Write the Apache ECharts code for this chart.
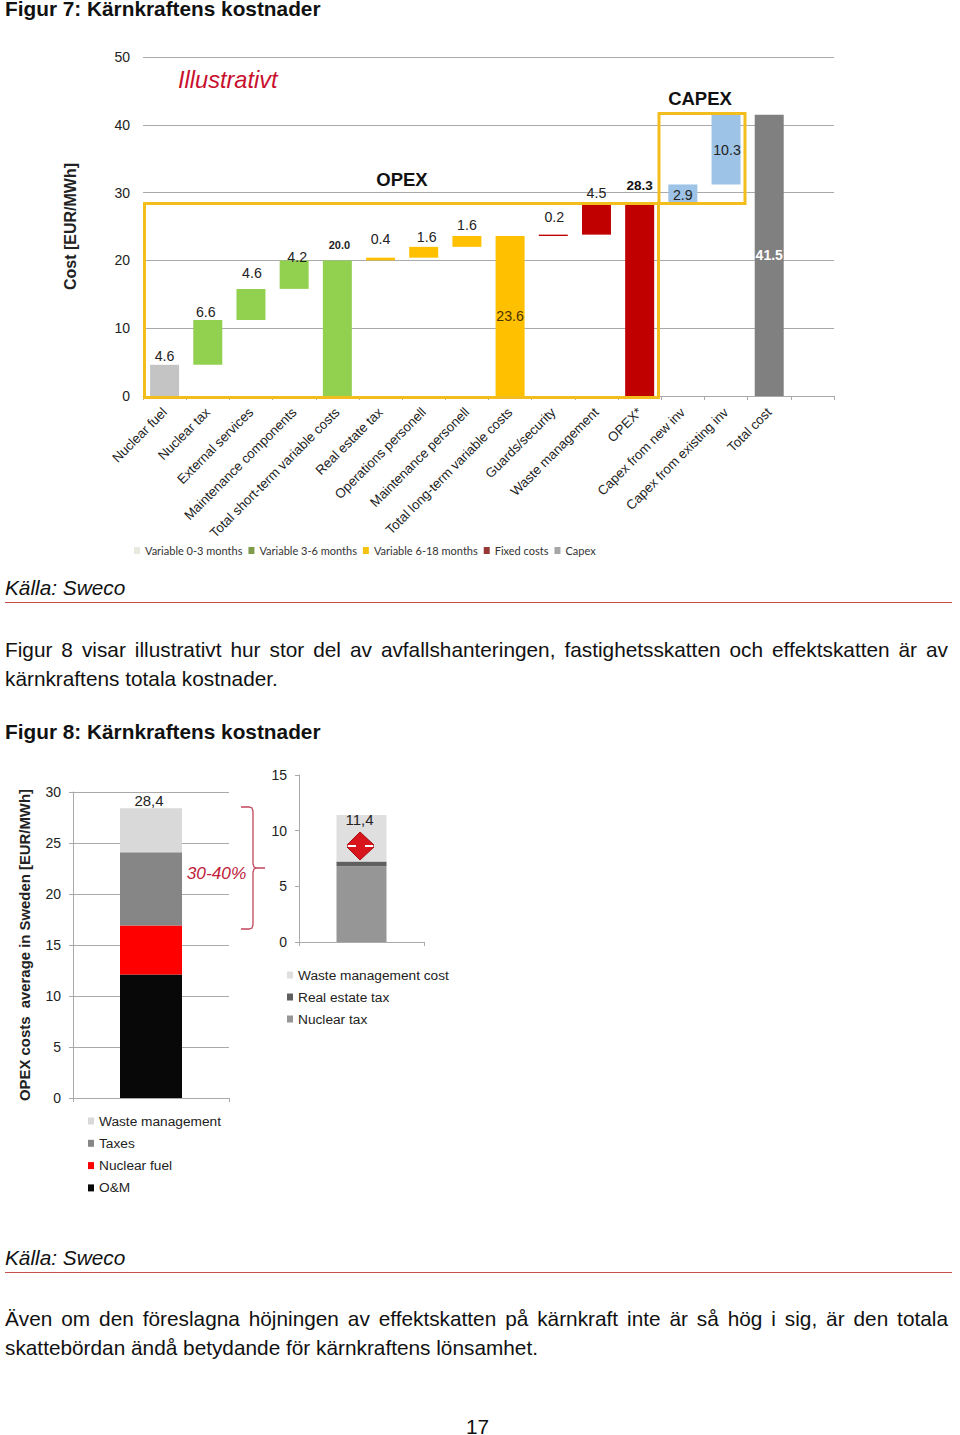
<!DOCTYPE html>
<html><head><meta charset="utf-8">
<script src="https://cdn.jsdelivr.net/npm/echarts@6/dist/echarts.min.js"></script>
<style>
html,body{margin:0;padding:0;background:#fff;width:960px;height:1435px;overflow:hidden}
#c{position:absolute;left:0;top:0;width:960px;height:1435px}
.t{position:absolute;left:5px;font-family:"Liberation Sans",Arial,sans-serif;font-size:20.8px;color:#111;white-space:nowrap;line-height:29px}
.h{font-weight:bold}.s{font-style:italic}
.p{white-space:normal;width:943px;text-align:justify}
.r{position:absolute;left:5px;width:947px;height:1px;background:#c8504a}
</style></head><body>
<div id="c"></div>
<div class="t h" style="top:0;line-height:17px">Figur 7: Kärnkraftens kostnader</div>
<div class="t s" style="top:573px">Källa: Sweco</div>
<div class="r" style="top:602px"></div>
<div class="t p" style="top:635px">Figur 8 visar illustrativt hur stor del av avfallshanteringen, fastighetsskatten och effektskatten är av kärnkraftens totala kostnader.</div>
<div class="t h" style="top:717px">Figur 8: Kärnkraftens kostnader</div>
<div class="t s" style="top:1243px">Källa: Sweco</div>
<div class="r" style="top:1272px"></div>
<div class="t p" style="top:1304px">Även om den föreslagna höjningen av effektskatten på kärnkraft inte är så hög i sig, är den totala skattebördan ändå betydande för kärnkraftens lönsamhet.</div>
<div class="t" style="left:466px;top:1419px;line-height:16px">17</div>
<script>
// ---- Figure 7 data
const categories = ['Nuclear fuel','Nuclear tax','External services','Maintenance components','Total short-term variable costs','Real estate tax','Operations personell','Maintenance personell','Total long-term variable costs','Guards/security','Waste management','OPEX*','Capex from new inv','Capex from existing inv','Total cost',''];
const baseValues   = [null,4.6,11.2,15.8,null,20,20.4,22,null,23.6,23.8,null,28.3,31.2,null,null];
const variable03   = [4.6,null,null,null,null,null,null,null,null,null,null,null,null,null,null,null];
const variable36   = [null,6.6,4.6,4.2,20,null,null,null,null,null,null,null,null,null,null,null];
const variable618  = [null,null,null,null,null,0.4,1.6,1.6,23.6,null,null,null,null,null,null,null];
const fixedCosts   = [null,null,null,null,null,null,null,null,null,0.2,4.5,28.3,null,null,null,null];
const capex        = [null,null,null,null,null,null,null,null,null,null,null,null,2.9,10.3,41.5,null];
// ---- Figure 8 data
const opexCategory = ['OPEX'];
const omValues = [12.1];
const nuclearFuelValues = [4.8];
const taxesValues = [7.2];
const wasteValues = [4.3];
const opexTotalLabel = '28,4';
const taxCategory = ['Tax'];
const nuclearTaxValues = [6.8];
const realEstateValues = [0.43];
const wasteCostValues = [4.17];
const taxTotalLabel = '11,4';

const FONT = '"Liberation Sans",Arial,sans-serif';
const TXT = '#222';
// label placement per category index: [position, dx, dy, extra]
const labelPlace = {
 0:['top',0,3],1:['top',-2,4],2:['top',1,-4],3:['top',3,9],
 4:['top',2,-5,{fontWeight:'bold',fontSize:11}],5:['top',0,-7],6:['top',3,2],7:['top',0,1],
 8:['inside',0,0,{color:'#4a3500'}],9:['top',1,-6],10:['top',0,1],
 11:['top',0,-7,{fontWeight:'bold',fontSize:13.5,color:'#111'}],
 12:['inside',0,1],13:['inside',1,0],14:['inside',0,0,{color:'#fff',fontWeight:'bold',fontSize:14}]
};
const barColor = {0:'#c4c4c4',14:'#808080'};
function makeData(arr,color){
  return arr.map((v,i)=>{
    if(v===null) return {value:null};
    const p=labelPlace[i];
    return {value:v,itemStyle:{color:barColor[i]||color},
      label:Object.assign({show:true,position:p[0],offset:[p[1],p[2]],formatter:d=>d.value.toFixed(1),
        fontFamily:FONT,fontSize:14.2,color:TXT},p[3]||{})};
  });
}
function s7(name,arr,color){
  return {name,type:'bar',stack:'a',xAxisIndex:0,yAxisIndex:0,barWidth:29,data:makeData(arr,color),itemStyle:{color}};
}
const gridLine={show:true,lineStyle:{color:'#aaa',width:1}};
const axisGrey={show:true,lineStyle:{color:'#aaa'}};
const lbl14={fontFamily:FONT,fontSize:14,color:TXT};
const legendText={fontFamily:FONT,fontSize:13.7,color:TXT};
const topLabel=(txt,off)=>({show:true,position:'top',offset:off,formatter:()=>txt,fontFamily:FONT,fontSize:15,color:TXT});
const YEL='#f2bd1d', RED='#c0203a';
const noFill='transparent';

const option={
 animation:false,
 backgroundColor:'#fff',
 grid:[
  {left:143,top:57,width:691,height:339},
  {left:73,top:792,width:156,height:306},
  {left:299,top:775,width:125,height:167}
 ],
 xAxis:[
  {gridIndex:0,type:'category',data:categories,axisLine:axisGrey,
   axisTick:{show:true,length:4,lineStyle:{color:'#aaa'},alignWithLabel:false,interval:0},
   axisLabel:{rotate:45,interval:0,margin:14,fontFamily:FONT,fontSize:13.3,color:TXT}},
  {gridIndex:1,type:'category',data:opexCategory,axisLine:axisGrey,axisTick:{show:true,length:4,lineStyle:{color:'#aaa'}},axisLabel:{show:false}},
  {gridIndex:2,type:'category',data:taxCategory,axisLine:axisGrey,axisTick:{show:true,length:4,lineStyle:{color:'#aaa'}},axisLabel:{show:false}}
 ],
 yAxis:[
  {gridIndex:0,type:'value',min:0,max:50,interval:10,name:'Cost [EUR/MWh]',nameLocation:'middle',nameGap:65,
   nameTextStyle:{fontFamily:FONT,fontSize:16,fontWeight:'bold',color:TXT},
   axisLine:{show:false},axisTick:{show:false},splitLine:gridLine,axisLabel:Object.assign({margin:13},lbl14)},
  {gridIndex:1,type:'value',min:0,max:30,interval:5,name:'OPEX costs  average in Sweden [EUR/MWh]',nameLocation:'middle',nameGap:41,
   nameTextStyle:{fontFamily:FONT,fontSize:14.9,fontWeight:'bold',color:TXT},
   axisLine:axisGrey,axisTick:{show:true,length:4,lineStyle:{color:'#aaa'}},splitLine:gridLine,axisLabel:Object.assign({margin:12},lbl14)},
  {gridIndex:2,type:'value',min:0,max:15,interval:5,
   axisLine:axisGrey,axisTick:{show:true,length:4,lineStyle:{color:'#aaa'}},splitLine:{show:false},axisLabel:Object.assign({margin:12},lbl14)}
 ],
 legend:[
  {left:134,top:545,padding:0,itemWidth:6,itemHeight:7,itemGap:6,icon:'rect',selectedMode:false,
   textStyle:{fontFamily:'Lato',fontSize:11,color:'#333'},
   data:[{name:'Variable 0-3 months',itemStyle:{color:'#e9e9e0'}},{name:'Variable 3-6 months',itemStyle:{color:'#7f9a48'}},
         {name:'Variable 6-18 months',itemStyle:{color:'#f5c211'}},{name:'Fixed costs',itemStyle:{color:'#953735'}},{name:'Capex',itemStyle:{color:'#a6a6a6'}}]},
  {left:88,top:1114,padding:0,orient:'vertical',itemWidth:6,itemHeight:7,itemGap:8.3,icon:'rect',selectedMode:false,textStyle:legendText,
   data:['Waste management','Taxes','Nuclear fuel','O&M']},
  {left:287,top:968,padding:0,orient:'vertical',itemWidth:6,itemHeight:7,itemGap:8,icon:'rect',selectedMode:false,textStyle:legendText,
   data:['Waste management cost','Real estate tax','Nuclear tax']}
 ],
 series:[
  {name:'Base',type:'bar',stack:'a',xAxisIndex:0,yAxisIndex:0,barWidth:29,data:baseValues,itemStyle:{color:noFill},silent:true},
  s7('Variable 0-3 months',variable03,'#c4c4c4'),
  s7('Variable 3-6 months',variable36,'#92d050'),
  s7('Variable 6-18 months',variable618,'#ffc000'),
  s7('Fixed costs',fixedCosts,'#c00000'),
  s7('Capex',capex,'#9dc3e6'),

  {name:'O&M',type:'bar',stack:'b',xAxisIndex:1,yAxisIndex:1,barWidth:62,data:omValues,itemStyle:{color:'#080808'}},
  {name:'Nuclear fuel',type:'bar',stack:'b',xAxisIndex:1,yAxisIndex:1,barWidth:62,data:nuclearFuelValues,itemStyle:{color:'#ff0000'}},
  {name:'Taxes',type:'bar',stack:'b',xAxisIndex:1,yAxisIndex:1,barWidth:62,data:taxesValues,itemStyle:{color:'#868686'}},
  {name:'Waste management',type:'bar',stack:'b',xAxisIndex:1,yAxisIndex:1,barWidth:62,data:wasteValues,itemStyle:{color:'#d9d9d9'},label:topLabel(opexTotalLabel,[-2,5])},

  {name:'Nuclear tax',type:'bar',stack:'c',xAxisIndex:2,yAxisIndex:2,barWidth:50,data:nuclearTaxValues,itemStyle:{color:'#969696'}},
  {name:'Real estate tax',type:'bar',stack:'c',xAxisIndex:2,yAxisIndex:2,barWidth:50,data:realEstateValues,itemStyle:{color:'#5f5f5f'}},
  {name:'Waste management cost',type:'bar',stack:'c',xAxisIndex:2,yAxisIndex:2,barWidth:50,data:wasteCostValues,itemStyle:{color:'#dfdfdf'},label:topLabel(taxTotalLabel,[-2,17])}
 ],
 graphic:{elements:[
  {type:'rect',z:100,shape:{x:144.5,y:203.5,width:514,height:194},style:{fill:noFill,stroke:YEL,lineWidth:3}},
  {type:'rect',z:100,shape:{x:659,y:113.5,width:86,height:90},style:{fill:noFill,stroke:YEL,lineWidth:3}},
  {type:'text',z:101,style:{text:'Illustrativt',x:178,y:80,font:'italic 23.6px '+FONT,fill:'#c8102e',textVerticalAlign:'middle'}},
  {type:'text',z:101,style:{text:'OPEX',x:402,y:179,font:'bold 18.5px '+FONT,fill:'#111',textAlign:'center',textVerticalAlign:'middle'}},
  {type:'text',z:101,style:{text:'CAPEX',x:700,y:98,font:'bold 18.5px '+FONT,fill:'#111',textAlign:'center',textVerticalAlign:'middle'}},
  {type:'text',z:101,style:{text:'30-40%',x:216.5,y:873,font:'italic 17.3px '+FONT,fill:RED,textAlign:'center',textVerticalAlign:'middle'}},
  {type:'polyline',z:100,shape:{points:[[241,807],[249,807],[252,808],[253,811],[253,864],[254,867],[257,868],[265,868],[257,868],[254,869],[253,872],[253,925],[252,928],[249,929],[241,929]]},style:{fill:noFill,stroke:'#c2465e',lineWidth:1.3}},
  {type:'polygon',z:100,shape:{points:[[360,832],[374,845],[369,846],[374,847],[360,860],[347,847],[352,846],[347,845]]},style:{fill:'#d8141c',stroke:'#a80d14',lineWidth:1}},
  {type:'line',z:101,shape:{x1:348,y1:846,x2:356,y2:846},style:{stroke:'#fff',lineWidth:2}},
  {type:'line',z:101,shape:{x1:365,y1:846,x2:373,y2:846},style:{stroke:'#fff',lineWidth:2}}
 ]}
};
const chart=echarts.init(document.getElementById('c'),null,{renderer:'svg',width:960,height:1435});
chart.setOption(option);
</script>
</body></html>
